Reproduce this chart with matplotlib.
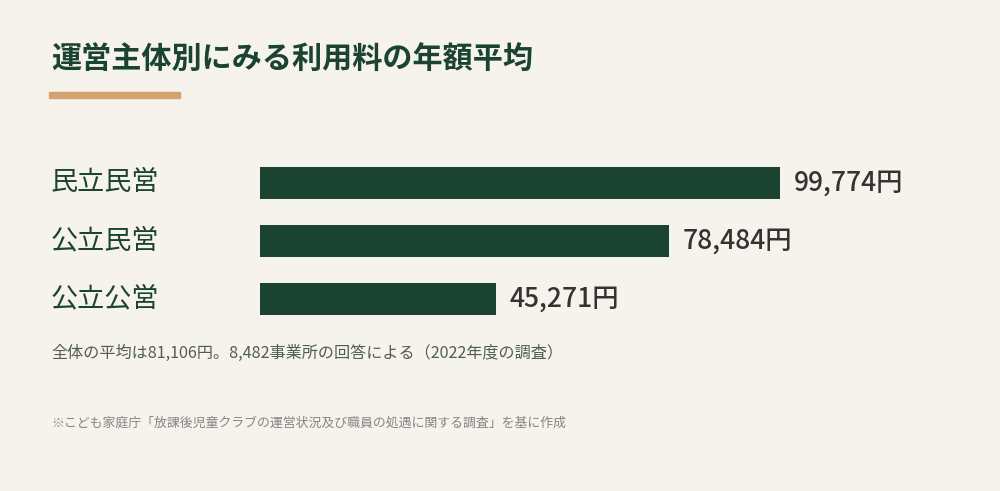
import matplotlib.pyplot as plt
from matplotlib.patches import Rectangle

plt.rcParams['font.family'] = ['Noto Sans CJK JP', 'DejaVu Sans']

# Data
categories = ["民立民営", "公立民営", "公立公営"]
fees = [99774, 78484, 45271]
value_labels = ["99,774円", "78,484円", "45,271円"]

title = "運営主体別にみる利用料の年額平均"
note = "全体の平均は81,106円。8,482事業所の回答による（2022年度の調査）"
source = "※こども家庭庁「放課後児童クラブの運営状況及び職員の処遇に関する調査」を基に作成"

bg = "#f6f2ec"
green = "#1b4332"

fig = plt.figure(figsize=(10, 4.91), dpi=100, facecolor=bg)

# Title and accent line
fig.text(0.051, 1 - 60 / 491, title, fontsize=21.7, fontweight="bold",
         color=green, va="center", ha="left")
fig.patches.append(Rectangle((0.049, 1 - 98 / 491), 0.131, 6 / 491,
                             transform=fig.transFigure, color="#d4a26e"))

# Bar axes: bars span from x=260px, 99,774 ends at 780px
ax = fig.add_axes([0.26, 1 - 328 / 491, 0.52, 174 / 491])
ax.set_facecolor(bg)
y = range(len(categories))
ax.barh(y, fees, height=0.55, color=green)
ax.set_xlim(0, max(fees))
ax.set_ylim(len(categories) - 0.5, -0.5)
ax.axis("off")

for i, (cat, v, lab) in enumerate(zip(categories, fees, value_labels)):
    ax.annotate(lab, xy=(v, i), xytext=(14, 0), textcoords="offset pixels",
                va="center", ha="left", fontsize=19, color="#333333",
                fontweight="medium", annotation_clip=False)
    ax.annotate(cat, xy=(0, i), xycoords=("figure fraction", "data"),
                xytext=(51, 0), textcoords="offset pixels",
                va="center", ha="left", fontsize=19.5, color=green)

fig.text(0.051, 1 - 353 / 491, note, fontsize=11.6, color="#4f5d54",
         va="center", ha="left")
fig.text(0.051, 1 - 423 / 491, source, fontsize=9.3, color="#858585",
         va="center", ha="left")

fig.savefig("out.png", dpi=100, facecolor=bg)
